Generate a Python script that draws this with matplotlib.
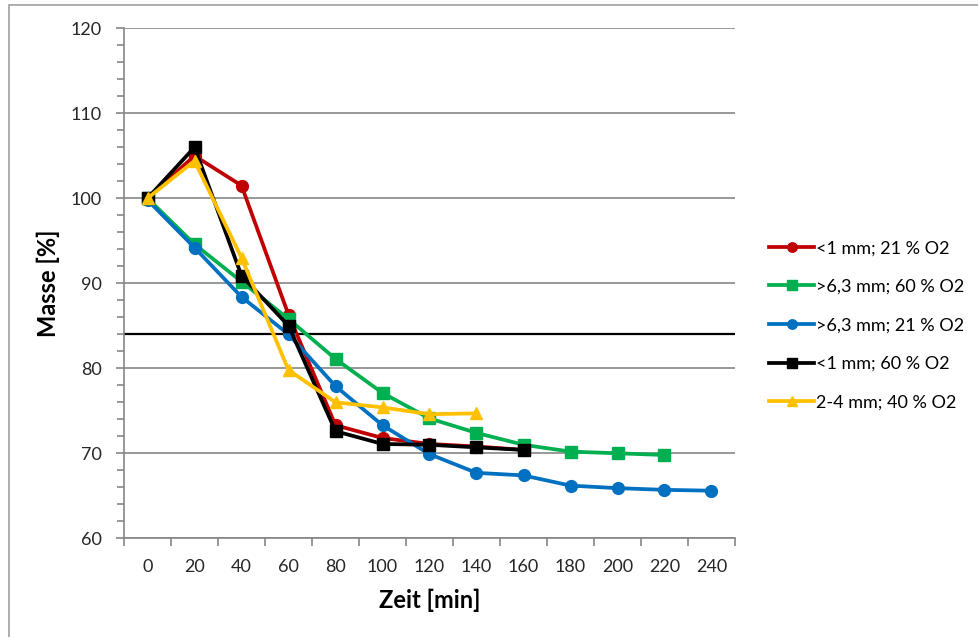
import numpy as np
import matplotlib.pyplot as plt
from matplotlib.patches import Rectangle

# time categories (min)
zeit = [0, 20, 40, 60, 80, 100, 120, 140, 160, 180, 200, 220, 240]

# mass in percent
red_y = [100, 105.0, 101.5, 86.3, 73.3, 71.8, 71.1, 70.8, 70.4]
green_y = [100, 94.6, 90.2, 85.8, 81.1, 77.1, 74.1, 72.4, 71.0, 70.2, 70.0, 69.8]
blue_y = [99.8, 94.2, 88.4, 84.0, 77.9, 73.3, 69.9, 67.7, 67.4, 66.2, 65.9, 65.7, 65.6]
black_y = [100, 106.0, 90.9, 85.0, 72.6, 71.1, 71.0, 70.7, 70.4]
yellow_y = [100, 104.4, 93.0, 79.8, 76.0, 75.4, 74.6, 74.7]
limit = 84

series = [
    ("<1 mm; 21 % O2", red_y, "#C00000", "o"),
    (">6,3 mm; 60 % O2", green_y, "#00B050", "s"),
    (">6,3 mm; 21 % O2", blue_y, "#0070C0", "o"),
    ("<1 mm; 60 % O2", black_y, "#000000", "s"),
    ("2-4 mm; 40 % O2", yellow_y, "#FFC000", "^"),
]

plt.rcParams['font.family'] = ['Lato', 'DejaVu Sans']

fig = plt.figure(figsize=(9.79, 6.37), dpi=100)
# outer chart border
fig.patches.append(Rectangle((9/979, -0.1), 1.1, 1 - 5/637 + 0.1, transform=fig.transFigure,
                             fill=False, edgecolor="#A0A0A0", lw=1.2))
ax = fig.add_axes([124/979, (637-538.3)/637, 611/979, 510/637])

for lab, ys, col, mk in series:
    xs = np.arange(len(ys))
    ax.plot(xs, ys, color=col, marker=mk, lw=2.7, ms=8.5, label=lab, zorder=3)

ax.axhline(limit, color="black", lw=1.6, zorder=2)

ax.set_xlim(-0.5, len(zeit) - 0.5)
ax.set_ylim(60, 120)
ax.set_xticks(np.arange(len(zeit)))
ax.set_xticklabels([str(z) for z in zeit])
ax.set_xticks(np.arange(len(zeit) + 1) - 0.5, minor=True)
ax.tick_params(axis="x", which="major", length=0, pad=15, labelsize=13, colors="#262626")
ax.tick_params(axis="x", which="minor", length=6, width=1.2, color="#868686")
ax.set_yticks(np.arange(60, 121, 10))
ax.set_yticks(np.arange(60, 121, 2), minor=True)
ax.tick_params(axis="y", which="major", length=6, width=1.2, color="#868686", labelsize=13,
               labelcolor="#262626", pad=10)
ax.tick_params(axis="y", which="minor", length=5, width=1.2, color="#868686")
ax.grid(axis="y", which="major", color="#868686", lw=1.2)
ax.set_axisbelow(True)

for s in ["top", "right"]:
    ax.spines[s].set_visible(False)
for s in ["left", "bottom"]:
    ax.spines[s].set_color("#868686")
    ax.spines[s].set_linewidth(1.2)

ax.set_xlabel("Zeit [min]", fontsize=17, fontweight="bold", labelpad=10)
ax.set_ylabel("Masse [%]", fontsize=17, fontweight="bold", labelpad=8)

ax.legend(loc="upper left", bbox_to_anchor=(762/979, 1 - 233/637), bbox_transform=fig.transFigure,
          frameon=False, fontsize=13, handlelength=2.5, handletextpad=0.1,
          labelspacing=1.25, borderaxespad=0, markerscale=0.8)

fig.savefig("out.png", dpi=100)
